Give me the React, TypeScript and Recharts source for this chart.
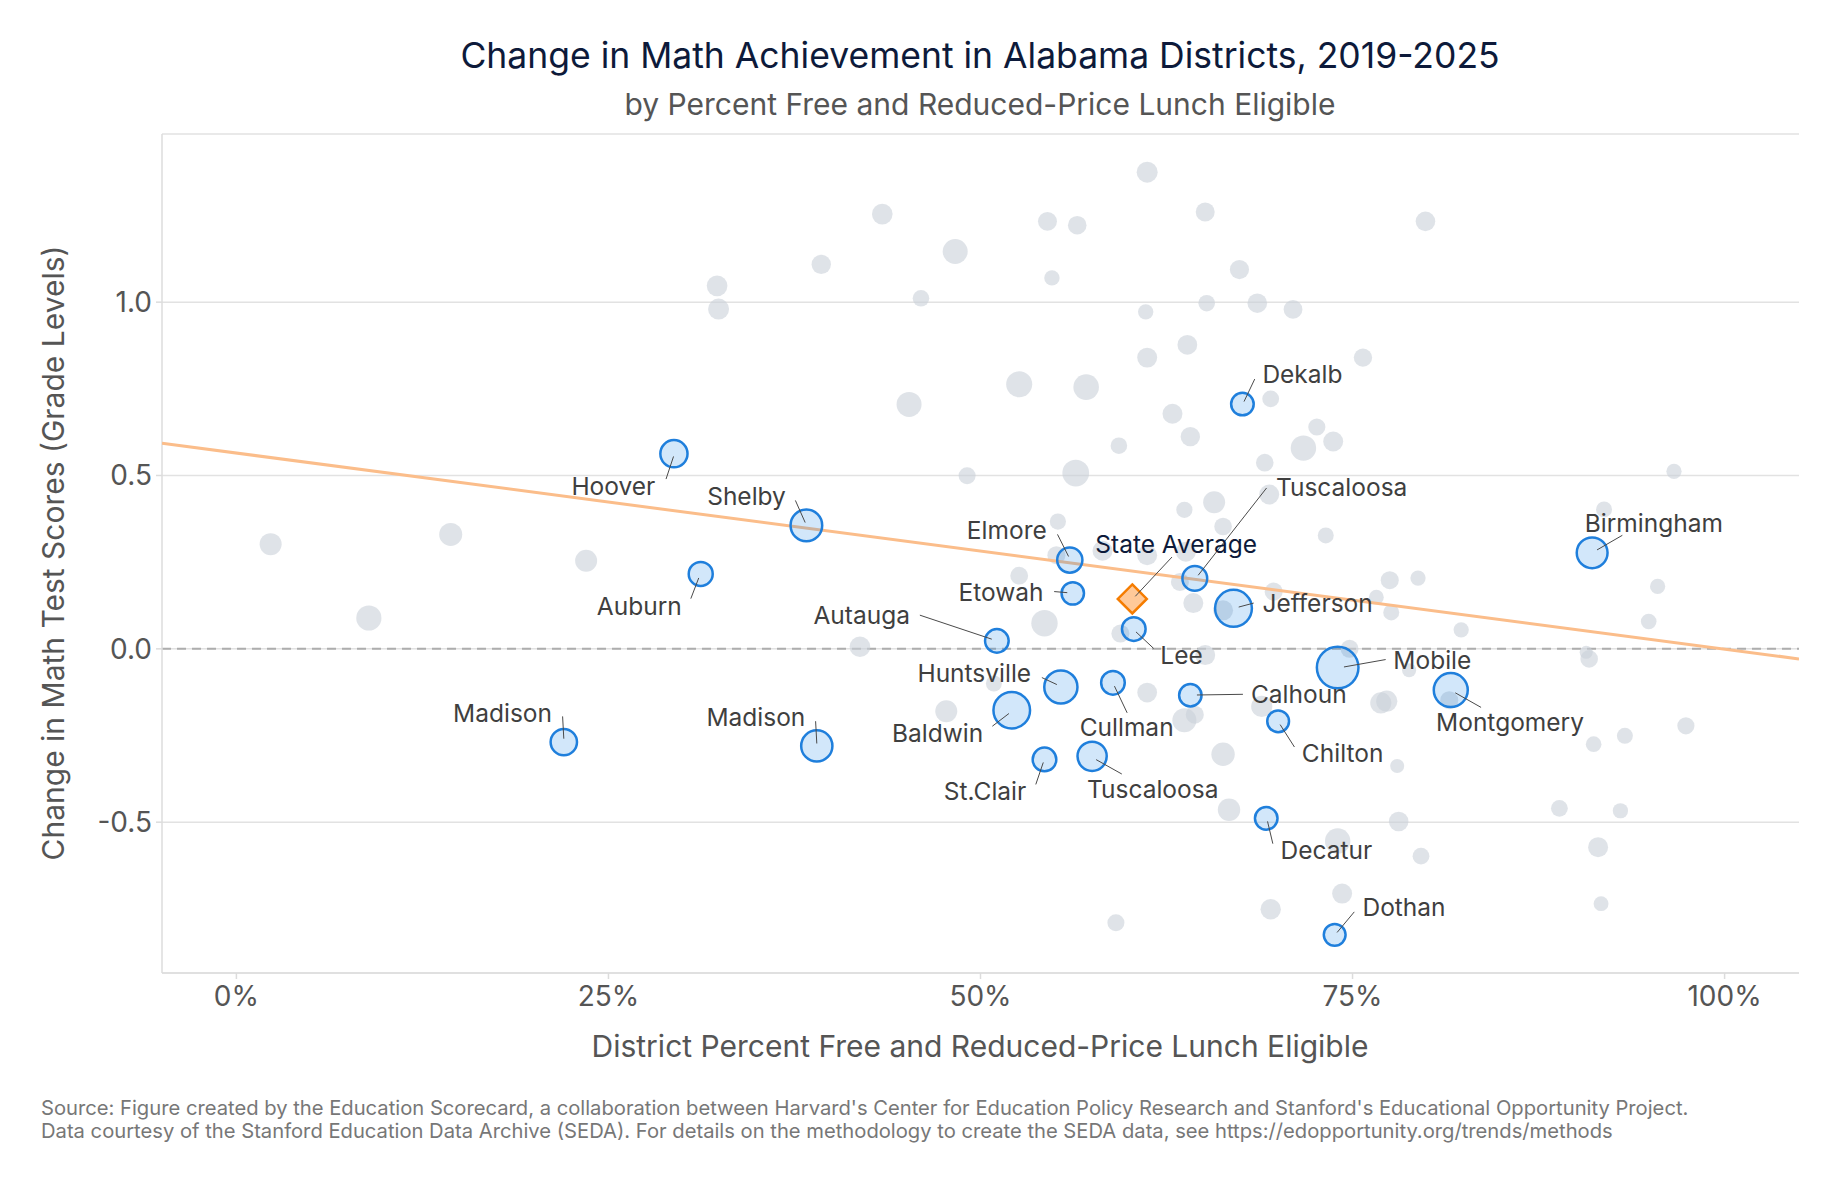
import React from 'react'
import { ScatterChart, Scatter, XAxis, YAxis, ZAxis, CartesianGrid, ReferenceLine } from 'recharts'

const FONT = 'Inter, "Noto Sans", sans-serif'

// all other Alabama districts: share FRL eligible, change in grade levels, relative district size
const otherFrl = [
  0.023, 0.144, 0.089, 0.235, 0.612, 0.434, 0.545, 0.565, 0.651, 0.483,
  0.393, 0.323, 0.324, 0.46, 0.548, 0.611, 0.652, 0.639, 0.612, 0.526,
  0.571, 0.452, 0.629, 0.641, 0.593, 0.491, 0.564, 0.657, 0.637, 0.552,
  0.526, 0.543, 0.419, 0.582, 0.612, 0.551, 0.638, 0.634, 0.643, 0.594,
  0.651, 0.674, 0.799, 0.686, 0.71, 0.757, 0.695, 0.726, 0.717, 0.737,
  0.691, 0.966, 0.694, 0.663, 0.732, 0.919, 0.955, 0.949, 0.823, 0.775,
  0.794, 0.766, 0.776, 0.697, 0.907, 0.909, 0.748, 0.788, 0.769, 0.773,
  0.689, 0.612, 0.477, 0.509, 0.637, 0.644, 0.663, 0.667, 0.591, 0.781,
  0.74, 0.796, 0.743, 0.695, 0.78, 0.889, 0.93, 0.915, 0.917, 0.912,
  0.933, 0.974, 0.815, 0.663,
]
const otherChange = [
  0.302, 0.33, 0.089, 0.254, 1.375, 1.254, 1.233, 1.222, 1.26, 1.146,
  1.109, 1.047, 0.98, 1.011, 1.07, 0.972, 0.997, 0.877, 0.84, 0.763,
  0.755, 0.705, 0.678, 0.612, 0.586, 0.499, 0.507, 0.423, 0.401, 0.367,
  0.211, 0.074, 0.006, 0.283, 0.27, 0.27, 0.28, 0.193, 0.132, 0.044,
  -0.018, 1.094, 1.233, 0.997, 0.979, 0.84, 0.721, 0.64, 0.579, 0.598,
  0.537, 0.512, 0.445, 0.353, 0.327, 0.402, 0.18, 0.079, 0.055, 0.198,
  0.204, 0.149, 0.105, 0.165, -0.01, -0.029, 0.0, -0.062, -0.156, -0.151,
  -0.166, -0.126, -0.18, -0.1, -0.206, -0.19, -0.304, -0.464, -0.79, -0.498,
  -0.554, -0.598, -0.706, -0.751, -0.338, -0.46, -0.467, -0.572, -0.735, -0.275,
  -0.251, -0.222, -0.148, 0.111,
]
const otherSize = [
  12.5, 13.7, 16.4, 12.5, 11.4, 11.0, 9.3, 8.9, 9.3, 16.1,
  9.7, 11.0, 11.4, 7.1, 6.1, 6.1, 7.1, 10.1, 10.3, 17.5,
  16.9, 16.1, 10.3, 9.7, 7.1, 7.5, 18.5, 12.5, 6.8, 6.8,
  8.2, 18.0, 11.0, 10.3, 10.3, 8.4, 10.3, 8.4, 10.3, 8.4,
  10.3, 9.5, 9.9, 9.9, 9.1, 8.7, 7.3, 7.6, 16.7, 10.3,
  8.0, 6.0, 10.3, 8.0, 6.6, 6.6, 6.0, 6.3, 6.0, 8.4,
  6.0, 5.7, 6.6, 8.4, 4.4, 8.0, 8.4, 5.1, 11.6, 11.6,
  11.6, 10.1, 12.5, 6.6, 14.9, 8.4, 14.1, 13.0, 7.5, 9.9,
  16.7, 7.3, 10.3, 10.7, 5.1, 7.3, 6.0, 10.3, 5.7, 6.3,
  6.6, 7.6, 8.4, 10.3,
]

// highlighted districts
const districtNames = [
  'Dekalb', 'Hoover', 'Shelby', 'Auburn', 'Elmore', 'Etowah', 'Tuscaloosa', 'Jefferson',
  'Birmingham', 'Autauga', 'Lee', 'Mobile', 'Huntsville', 'Calhoun', 'Baldwin', 'Cullman',
  'Chilton', 'Madison', 'Madison', 'St.Clair', 'Tuscaloosa', 'Montgomery', 'Decatur', 'Dothan',
]
const districtFrl = [
  0.676, 0.294, 0.383, 0.312, 0.56, 0.562, 0.644, 0.67,
  0.911, 0.511, 0.603, 0.74, 0.554, 0.641, 0.521, 0.589,
  0.7, 0.22, 0.39, 0.543, 0.575, 0.816, 0.692, 0.738,
]
const districtChange = [
  0.706, 0.563, 0.356, 0.216, 0.256, 0.16, 0.203, 0.117,
  0.277, 0.023, 0.057, -0.054, -0.11, -0.134, -0.177, -0.098,
  -0.209, -0.269, -0.28, -0.319, -0.31, -0.119, -0.489, -0.825,
]
const districtSize = [
  16.1, 22.6, 29.9, 18.0, 19.7, 15.9, 19.1, 39.7,
  28.5, 17.5, 17.5, 50.0, 32.7, 15.9, 39.3, 17.5,
  15.1, 21.4, 29.2, 17.5, 25.8, 34.2, 16.1, 15.1,
]

const stateAvgFrl = 0.602
const stateAvgChange = 0.144

// fitted line, read at both ends of the x range
const trendFrl = [-0.05, 1.05]
const trendChange = [0.593, -0.029]

const xTicks = [0, 0.25, 0.5, 0.75, 1]
const yTicks = [-0.5, 0, 0.5, 1]

// label placement per highlighted district, px from the bubble centre:
// [textX, textY, anchor, leaderX1, leaderY1, leaderX2, leaderY2]
type Placement = [number, number, 'start' | 'middle' | 'end', number, number, number, number]
const labelPlacement: Placement[] = [
  [20, -29.6, 'start', 1.6, -2.5, 12.3, -25],
  [-18.6, 32.4, 'end', -0.4, 2.8, -7.9, 25.4],
  [-20.5, -29.7, 'end', -1.2, -2.9, -11, -25],
  [-19, 31.8, 'end', -2, 4, -9.9, 24.7],
  [-23, -30, 'end', -1.2, -3.6, -12.3, -25.7],
  [-29.2, -1.8, 'end', -5.5, -0.7, -18.6, -1.8],
  [81.1, -91.2, 'start', 3.4, -3.2, 71.8, -90.5],
  [28.9, -5.2, 'start', 5.2, -1.2, 20.2, -5.2],
  [-7.4, -30, 'start', 4.9, -2.9, 30.2, -17.5],
  [-86.9, -25.7, 'end', -5.1, -1.7, -77, -25.7],
  [26.5, 26.1, 'start', 2.2, 2.8, 19.9, 19.4],
  [55.7, -8, 'start', 6.3, -0.6, 48, -8],
  [-29.7, -14, 'end', -4, -2.4, -19, -9.4],
  [60.6, -1, 'start', 6.6, -0.3, 52.6, -1],
  [-28.5, 22.7, 'end', -2.8, 3.3, -19.4, 16],
  [13.7, 44, 'middle', 1.5, 3.3, 14.2, 30],
  [23.7, 31.7, 'start', 2, 3.3, 16.3, 25.7],
  [-11.8, -29.4, 'end', 0, -3.4, -1.2, -25.7],
  [-11.5, -29, 'end', 0, -2.4, -1.2, -24.7],
  [-18.2, 31.4, 'end', -1.2, 3, -8.7, 25],
  [-5.1, 32.3, 'start', 4, 3.3, 29.7, 17.7],
  [-14.7, 31.7, 'start', 4.5, 2.7, 30.3, 17.3],
  [14.3, 31.3, 'start', 1.3, 3, 6.6, 25.3],
  [27.8, -27.4, 'start', 2.4, -2.4, 19.6, -23],
]
const statePlacement: Placement = [-37, -55.3, 'start', 3, -2.6, 39.7, -41.9]

const radiusOf = (p: any) => (p.width ? p.width / 2 : Math.sqrt(Math.max(p.size || 0, 0) / Math.PI))

const GrayDot = (p: any) => (
  <circle cx={p.cx} cy={p.cy} r={radiusOf(p)} fill="#c9d0d9" fillOpacity={0.6} />
)

const BlueDot = (p: any) => (
  <circle
    cx={p.cx}
    cy={p.cy}
    r={radiusOf(p) - 1.2}
    fill="#1e88e5"
    fillOpacity={0.2}
    stroke="#1f7fdc"
    strokeWidth={2.5}
  />
)

const Diamond = (p: any) => {
  const h = 14.5
  return (
    <polygon
      points={`${p.cx},${p.cy - h} ${p.cx + h},${p.cy} ${p.cx},${p.cy + h} ${p.cx - h},${p.cy}`}
      fill="#ffc999"
      stroke="#f57c00"
      strokeWidth={2.5}
    />
  )
}

const Leader = ({ cx, cy, place, text, color }: any) => {
  const [tx, ty, anchor, x1, y1, x2, y2] = place as Placement
  return (
    <g>
      <line x1={cx + x1} y1={cy + y1} x2={cx + x2} y2={cy + y2} stroke="#4a4a4a" strokeWidth={1} />
      <text
        x={cx + tx}
        y={cy + ty}
        textAnchor={anchor}
        dominantBaseline="central"
        fontFamily={FONT}
        fontSize={24.5}
        fill={color}
      >
        {text}
      </text>
    </g>
  )
}

const DistrictLabel = (p: any) => (
  <Leader cx={p.cx} cy={p.cy} place={labelPlacement[p.payload.i]} text={p.payload.name} color="#3f3f3f" />
)

const StateLabel = (p: any) => (
  <Leader cx={p.cx} cy={p.cy} place={statePlacement} text="State Average" color="#0d1a3a" />
)

const pct = (v: number) => `${Math.round(v * 100)}%`

export default function App() {
  const others = otherFrl.map((x, i) => ({ x, y: otherChange[i], z: otherSize[i] }))
  const named = districtNames.map((name, i) => ({
    name,
    i,
    x: districtFrl[i],
    y: districtChange[i],
    z: districtSize[i],
  }))
  const trend = trendFrl.map((x, i) => ({ x, y: trendChange[i], z: 1 }))
  const state = [{ x: stateAvgFrl, y: stateAvgChange, z: 1 }]

  const tick = { fill: '#555', fontSize: 28, fontFamily: FONT }

  return (
    <div style={{ position: 'relative', width: 1841, height: 1182, background: '#fff', fontFamily: FONT }}>
      <style>{'body{margin:0}'}</style>
      <ScatterChart width={1841} height={1182} margin={{ top: 134, right: 42, bottom: 169, left: 102 }}>
        <CartesianGrid vertical={false} stroke="#e2e2e2" strokeWidth={1.5} />
        <XAxis
          type="number"
          dataKey="x"
          domain={[-0.05, 1.05]}
          ticks={xTicks}
          allowDataOverflow
          tickFormatter={pct}
          height={40}
          stroke="#dcdcdc"
          strokeWidth={1.5}
          tick={tick}
          tickSize={6}
          tickMargin={7.5}
        />
        <YAxis
          type="number"
          dataKey="y"
          domain={[-0.935, 1.485]}
          ticks={yTicks}
          allowDataOverflow
          tickFormatter={(v: number) => v.toFixed(1)}
          width={60}
          stroke="#dcdcdc"
          strokeWidth={1.5}
          tick={tick}
          tickSize={6}
          tickMargin={4}
        />
        <ZAxis type="number" dataKey="z" domain={[0, 50]} range={[0, Math.PI * 22 * 22]} />
        <ReferenceLine y={0} stroke="#adadad" strokeWidth={2} strokeDasharray="9 6" />
        <Scatter data={others} shape={GrayDot} isAnimationActive={false} />
        <Scatter
          data={trend}
          line={{ stroke: '#fbbd8a', strokeWidth: 3 }}
          shape={() => <g />}
          isAnimationActive={false}
        />
        <Scatter data={named} shape={BlueDot} isAnimationActive={false} />
        <Scatter data={state} shape={Diamond} isAnimationActive={false} />
        <Scatter data={named} shape={DistrictLabel} isAnimationActive={false} />
        <Scatter data={state} shape={StateLabel} isAnimationActive={false} />
      </ScatterChart>

      <div style={{ ...centered(980, 55), fontSize: 35.5, color: '#0d1a3a' }}>
        Change in Math Achievement in Alabama Districts, 2019-2025
      </div>
      <div style={{ ...centered(980, 104), fontSize: 30, color: '#555' }}>
        by Percent Free and Reduced-Price Lunch Eligible
      </div>
      <div style={{ ...centered(53, 553), transform: 'translate(-50%, -50%) rotate(-90deg)', fontSize: 30, color: '#555' }}>
        Change in Math Test Scores (Grade Levels)
      </div>
      <div style={{ ...centered(980, 1046), fontSize: 30, color: '#555' }}>
        District Percent Free and Reduced-Price Lunch Eligible
      </div>
      <div style={{ position: 'absolute', left: 41, top: 1095.5, fontSize: 20.2, lineHeight: '23.5px', color: '#777', whiteSpace: 'nowrap' }}>
        Source: Figure created by the Education Scorecard, a collaboration between Harvard's Center for Education Policy
        Research and Stanford's Educational Opportunity Project.
        <br />
        Data courtesy of the Stanford Education Data Archive (SEDA). For details on the methodology to create the SEDA data,
        see https://edopportunity.org/trends/methods
      </div>
    </div>
  )
}

function centered(x: number, y: number): React.CSSProperties {
  return {
    position: 'absolute',
    left: x,
    top: y,
    transform: 'translate(-50%, -50%)',
    whiteSpace: 'nowrap',
  }
}
